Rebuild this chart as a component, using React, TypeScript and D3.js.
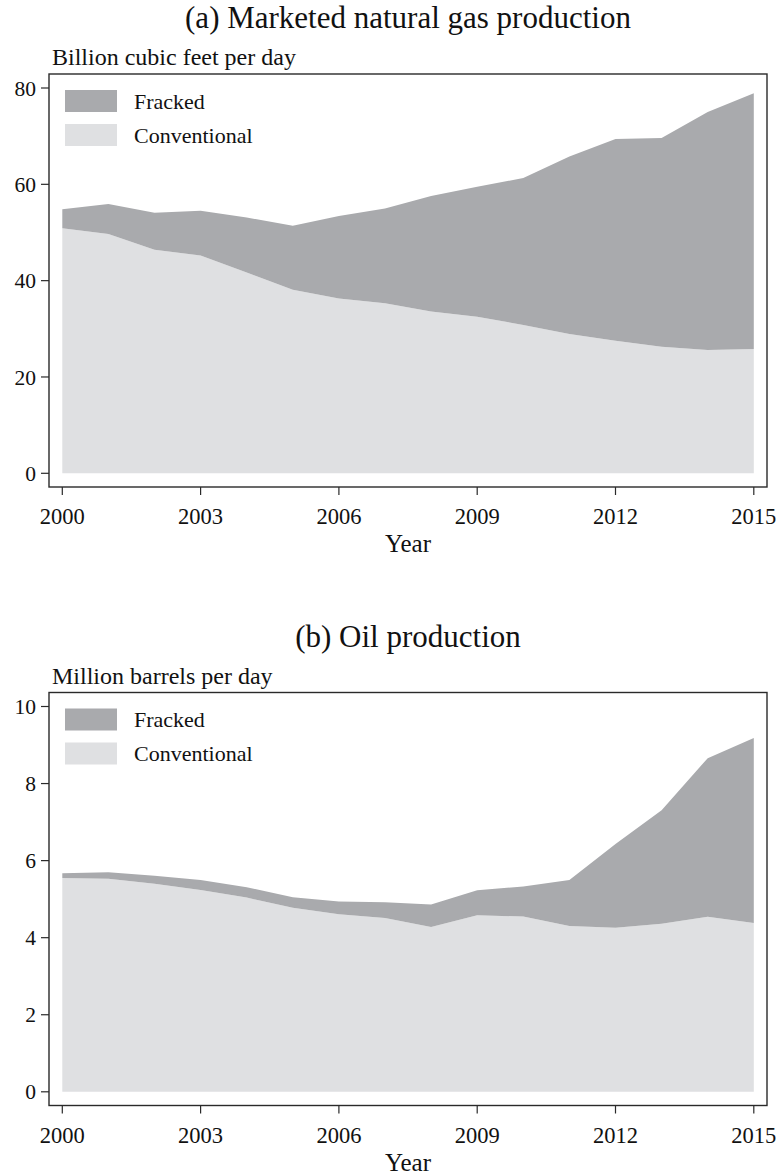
import React from "react";
import * as d3 from "d3";

const years = d3.range(2000, 2016);
const gasConventional = [50.9, 49.7, 46.4, 45.2, 41.7, 38.1, 36.3, 35.3, 33.6, 32.5, 30.8, 28.9, 27.5, 26.3, 25.6, 25.8];
const gasFracked = [3.9, 6.2, 7.7, 9.3, 11.4, 13.3, 17.1, 19.7, 24.0, 27.0, 30.5, 36.9, 41.9, 43.3, 49.4, 53.1];
const oilConventional = [5.55, 5.53, 5.40, 5.24, 5.04, 4.78, 4.61, 4.51, 4.28, 4.58, 4.55, 4.30, 4.26, 4.36, 4.54, 4.38];
const oilFracked = [0.12, 0.17, 0.21, 0.26, 0.27, 0.27, 0.33, 0.41, 0.58, 0.65, 0.78, 1.20, 2.17, 2.95, 4.12, 4.80];
const xTicks = [2000, 2003, 2006, 2009, 2012, 2015];
const gasTicks = [0, 20, 40, 60, 80];
const oilTicks = [0, 2, 4, 6, 8, 10];
const seriesNames = ["Fracked", "Conventional"];

const FONT = "'Liberation Serif', 'Times New Roman', serif";
const C_FRACK = "#a9aaad";
const C_CONV = "#dfe0e2";
const C_AXIS = "#2a2a2a";

type PanelProps = {
  top: number;
  title: string;
  unit: string;
  conv: number[];
  frack: number[];
  yMax: number;
  yTicks: number[];
};

function Panel({ top, title, unit, conv, frack, yMax, yTicks }: PanelProps) {
  const fL = 49, fR = 767, fT = top + 74, fB = top + 487;
  const x = d3.scaleLinear().domain([2000, 2015]).range([62.3, 753.8]);
  const y = d3.scaleLinear().domain([0, yMax]).range([fB - 13.7, fB - 13.7 - (473.3 - 88)]);
  const rows = years.map((yr, i) => ({ year: yr, conv: conv[i], frack: frack[i] }));
  const stack = d3.stack<any>().keys(["conv", "frack"]);
  const layers = stack(rows);
  const area = d3
    .area<any>()
    .x((d) => x(d.data.year))
    .y0((d) => y(d[0]))
    .y1((d) => y(d[1]));
  const colors: Record<string, string> = { conv: C_CONV, frack: C_FRACK };
  return (
    <g>
      <text x={408} y={top + 28} textAnchor="middle" fontSize={31} fontFamily={FONT} fill="#111">
        {title}
      </text>
      <text x={52} y={top + 65} fontSize={24} fontFamily={FONT} fill="#111">
        {unit}
      </text>
      {layers.map((l) => (
        <path key={l.key} d={area(l as any) || ""} fill={colors[l.key]} />
      ))}
      <rect x={fL} y={fT} width={fR - fL} height={fB - fT} fill="none" stroke={C_AXIS} strokeWidth={1.4} />
      {yTicks.map((t) => (
        <g key={t}>
          <line x1={fL - 8} x2={fL} y1={y(t)} y2={y(t)} stroke={C_AXIS} strokeWidth={1.2} />
          <text x={36} y={y(t)} dy="0.35em" textAnchor="end" fontSize={21.5} fontFamily={FONT} fill="#111">
            {t}
          </text>
        </g>
      ))}
      {xTicks.map((t) => (
        <g key={t}>
          <line x1={x(t)} x2={x(t)} y1={fB} y2={fB + 8} stroke={C_AXIS} strokeWidth={1.2} />
          <text x={x(t)} y={fB + 37} textAnchor="middle" fontSize={22.5} fontFamily={FONT} fill="#111">
            {t}
          </text>
        </g>
      ))}
      <text x={408} y={fB + 65} textAnchor="middle" fontSize={25} fontFamily={FONT} fill="#111">
        Year
      </text>
      {seriesNames.map((s, i) => (
        <g key={s}>
          <rect x={65} y={fT + 16 + i * 34} width={52} height={22} fill={i === 0 ? C_FRACK : C_CONV} />
          <text x={134} y={fT + 27 + i * 34} dy="0.35em" fontSize={22} fontFamily={FONT} fill="#111">
            {s}
          </text>
        </g>
      ))}
    </g>
  );
}

export default function App() {
  return (
    <svg width={778} height={1175} style={{ position: "absolute", left: 0, top: 0, background: "#fff" }}>
      <rect x={0} y={0} width={778} height={1175} fill="#fff" />
      <Panel top={0} title="(a) Marketed natural gas production" unit="Billion cubic feet per day" conv={gasConventional} frack={gasFracked} yMax={80} yTicks={gasTicks} />
      <Panel top={618.5} title="(b) Oil production" unit="Million barrels per day" conv={oilConventional} frack={oilFracked} yMax={10} yTicks={oilTicks} />
    </svg>
  );
}
